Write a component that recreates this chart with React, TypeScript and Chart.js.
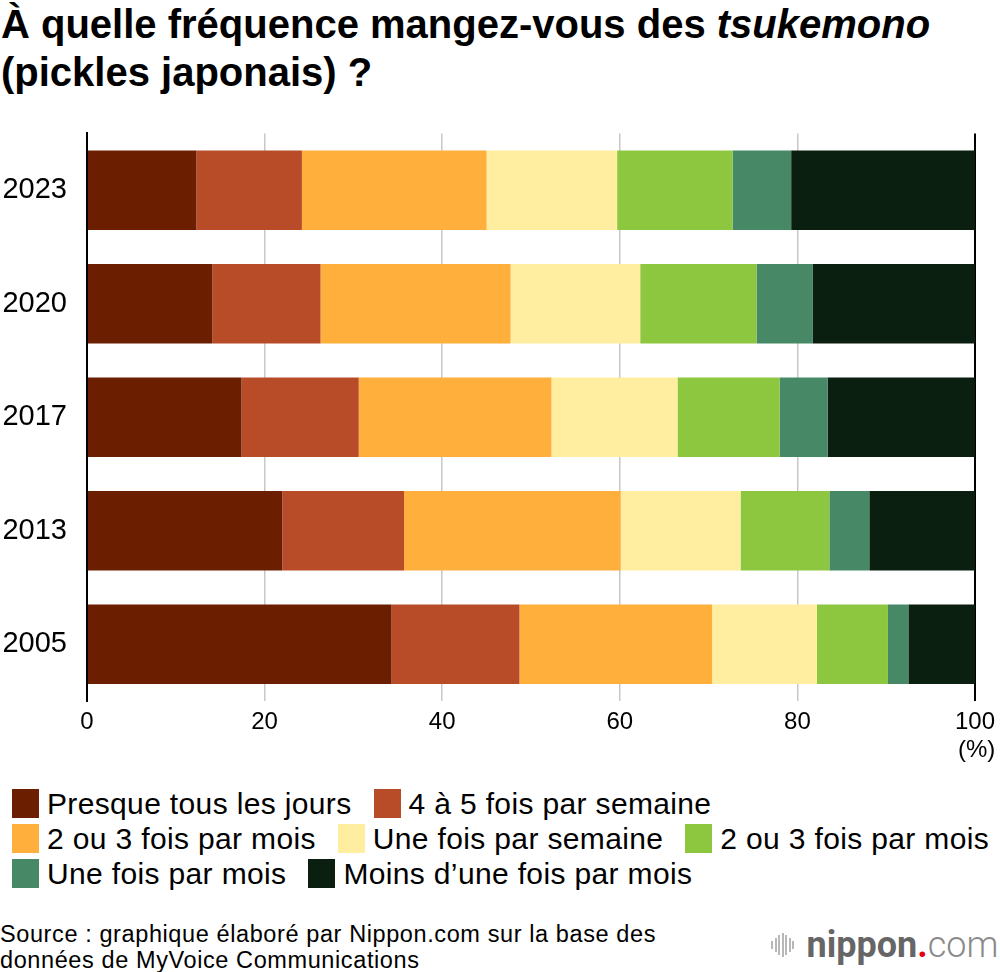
import React, { useEffect, useRef } from "react";
import { Chart, registerables } from "chart.js";

Chart.register(...registerables);

const categories = ["2023", "2020", "2017", "2013", "2005"];
const seriesLabels = [
  "Presque tous les jours",
  "4 à 5 fois par semaine",
  "2 ou 3 fois par mois",
  "Une fois par semaine",
  "2 ou 3 fois par mois",
  "Une fois par mois",
  "Moins d’une fois par mois",
];
const seriesColors = ["#6B1E00", "#B84C28", "#FFAF3C", "#FFEEA0", "#8DC63F", "#478966", "#0B1F11"];
const presqueTousLesJours = [12.3, 14.1, 17.4, 22.0, 34.3];
const quatreACinqParSemaine = [11.9, 12.2, 13.2, 13.7, 14.4];
const deuxOuTroisParMoisA = [20.8, 21.4, 21.7, 24.4, 21.7];
const uneFoisParSemaine = [14.7, 14.6, 14.2, 13.5, 11.8];
const deuxOuTroisParMoisB = [13.0, 13.1, 11.5, 10.0, 8.0];
const uneFoisParMois = [6.6, 6.3, 5.4, 4.5, 2.3];
const moinsDUneFois = [20.7, 18.3, 16.6, 11.9, 7.5];
const seriesValues = [
  presqueTousLesJours,
  quatreACinqParSemaine,
  deuxOuTroisParMoisA,
  uneFoisParSemaine,
  deuxOuTroisParMoisB,
  uneFoisParMois,
  moinsDUneFois,
];
const xTicks = [0, 20, 40, 60, 80, 100];
const legendRows = [[0, 1], [2, 3, 4], [5, 6]];

const FONT = "'Liberation Sans', Arial, Helvetica, sans-serif";

export default function App() {
  const canvasRef = useRef<HTMLCanvasElement | null>(null);

  useEffect(() => {
    if (!canvasRef.current) return;
    const chart = new Chart(canvasRef.current, {
      type: "bar",
      data: {
        labels: categories,
        datasets: seriesValues.map((vals, i) => ({
          label: seriesLabels[i],
          data: vals,
          backgroundColor: seriesColors[i],
          borderWidth: 0,
          barPercentage: 0.7,
          categoryPercentage: 1,
        })),
      },
      options: {
        indexAxis: "y",
        animation: false,
        responsive: true,
        maintainAspectRatio: false,
        layout: { padding: { top: 9, right: 22, left: 0, bottom: 0 } },
        plugins: {
          legend: { display: false },
          tooltip: { enabled: false },
          title: { display: false },
        },
        scales: {
          x: {
            stacked: true,
            min: 0,
            max: 100,
            afterBuildTicks: (scale: any) => {
              scale.ticks = xTicks.map((v) => ({ value: v }));
            },
            afterFit: (scale: any) => {
              scale.height = 49;
            },
            grid: {
              drawTicks: false,
              color: (ctx: any) =>
                ctx.tick && (ctx.tick.value === 0 || ctx.tick.value === 100) ? "#000000" : "#c8c8c8",
              lineWidth: (ctx: any) =>
                ctx.tick && (ctx.tick.value === 0 || ctx.tick.value === 100) ? 2 : 1.5,
            },
            border: { display: false },
            ticks: {
              color: "#000",
              padding: 7,
              font: { family: FONT, size: 24 },
            },
          },
          y: {
            stacked: true,
            afterFit: (scale: any) => {
              scale.width = 87;
            },
            grid: { display: false, drawTicks: false },
            border: { display: true, color: "#000000", width: 2 },
            ticks: {
              color: "#000",
              padding: 20,
              font: { family: FONT, size: 29 },
            },
          },
        },
      },
    });
    return () => chart.destroy();
  }, []);

  return (
    <div
      style={{
        position: "absolute",
        left: 0,
        top: 0,
        width: 1000,
        height: 972,
        background: "#fff",
        fontFamily: FONT,
        color: "#000",
        overflow: "hidden",
      }}
    >
      <div
        style={{
          position: "absolute",
          left: 1,
          top: 0,
          fontSize: 40,
          fontWeight: 700,
          lineHeight: "48px",
          whiteSpace: "nowrap",
        }}
      >
        À quelle fréquence mangez-vous des <i>tsukemono</i>
        <br />
        (pickles japonais) ?
      </div>

      <div style={{ position: "absolute", left: 0, top: 96, width: 1002, height: 654 }}>
        <canvas ref={canvasRef} />
      </div>

      <div style={{ position: "absolute", left: 958, top: 735, fontSize: 24 }}>(%)</div>

      <div style={{ position: "absolute", left: 12, top: 786 }}>
        {legendRows.map((row, ri) => (
          <div key={ri} style={{ display: "flex", alignItems: "center", height: 35 }}>
            {row.map((si) => (
              <div key={si} style={{ display: "flex", alignItems: "center", marginRight: 22 }}>
                <div
                  style={{
                    width: 27,
                    height: 29,
                    background: seriesColors[si],
                    marginRight: 8,
                  }}
                />
                <span style={{ fontSize: 30, letterSpacing: 0.35, whiteSpace: "nowrap" }}>
                  {seriesLabels[si]}
                </span>
              </div>
            ))}
          </div>
        ))}
      </div>

      <div
        style={{
          position: "absolute",
          left: 0,
          top: 921,
          fontSize: 23.5,
          letterSpacing: 0.6,
          lineHeight: "26px",
          whiteSpace: "nowrap",
        }}
      >
        Source : graphique élaboré par Nippon.com sur la base des
        <br />
        données de MyVoice Communications
      </div>

      <div
        style={{
          position: "absolute",
          left: 771,
          top: 922,
          height: 46,
          display: "flex",
          alignItems: "center",
        }}
      >
        <div style={{ display: "flex", alignItems: "center", marginRight: 11 }}>
          {[8, 14, 20, 24, 20, 14, 8].map((h, i) => (
            <div key={i} style={{ width: 2, height: h, background: "#b8b8b8", marginRight: 1.5 }} />
          ))}
        </div>
        <span style={{ fontFamily: "Roboto, sans-serif", fontSize: 36, fontWeight: 700, color: "#666" }}>
          nippon
        </span>
        <span style={{ fontFamily: "Roboto, sans-serif", fontSize: 36, fontWeight: 700, color: "#e60012" }}>
          .
        </span>
        <span style={{ fontFamily: "Roboto, sans-serif", fontSize: 36, fontWeight: 300, color: "#8a8a8a" }}>
          com
        </span>
      </div>
    </div>
  );
}
